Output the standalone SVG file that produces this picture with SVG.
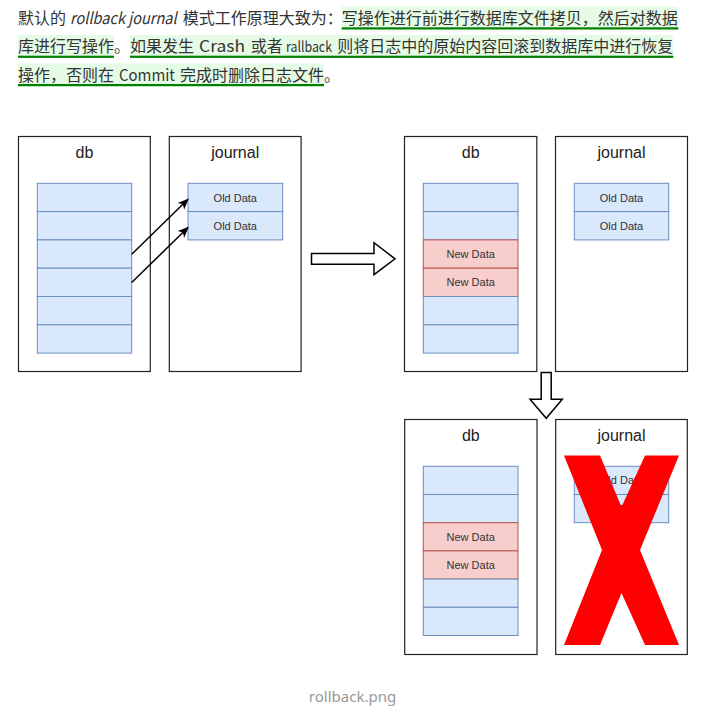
<svg xmlns="http://www.w3.org/2000/svg" width="719" height="710" viewBox="0 0 719 710">
<style>
.t{font-family:"Noto Sans CJK SC","Noto Sans",sans-serif;font-size:16px;fill:#333}
.it{font-style:italic}
.hl{fill:#e6fbe6}
.ul{fill:#008000}
.box{fill:#fff;stroke:#222;stroke-width:1.2}
.cb{fill:#dae8fc;stroke:#6c8ebf;stroke-width:1}
.cr{fill:#f8cecc;stroke:#b85450;stroke-width:1}
.ttl{font-family:"Liberation Sans",Arial,sans-serif;font-size:16px;fill:#222;text-anchor:middle}
.ct{font-family:"Liberation Sans",Arial,sans-serif;font-size:11px;fill:#333;text-anchor:middle}
.conn{stroke:#000;stroke-width:1.5;fill:none}
.big{fill:#fff;stroke:#000;stroke-width:1.5;stroke-linejoin:miter}
</style>
<defs>
<marker id="ah" viewBox="0 0 10 10" refX="9" refY="5" markerWidth="11" markerHeight="11" markerUnits="userSpaceOnUse" orient="auto">
<path d="M0,0.8 L10,5 L0,9.2 L2.5,5 z" fill="#000"/>
</marker>
</defs>
<rect width="719" height="710" fill="#fff"/>

<g id="header">
<rect class="hl" x="341.7" y="6.5" width="336.6" height="23"/>
<rect class="ul" x="341.7" y="27.3" width="336.6" height="2.2"/>
<rect class="hl" x="18" y="35" width="96" height="23"/>
<rect class="ul" x="18" y="55.7" width="96" height="2.2"/>
<rect class="hl" x="130" y="35" width="543.3" height="23"/>
<rect class="ul" x="130" y="55.7" width="543.3" height="2.2"/>
<rect class="hl" x="18" y="63.5" width="306" height="23"/>
<rect class="ul" x="18" y="84" width="306" height="2.2"/>

<text class="t" y="24"><tspan x="18">默认的</tspan><tspan class="it" x="70" textLength="106.7" lengthAdjust="spacingAndGlyphs">rollback journal</tspan><tspan x="182.7">模式工作原理大致为：</tspan><tspan x="341.7">写操作进行前进行数据库文件拷贝，然后对数据</tspan></text>

<text class="t" y="52.3"><tspan x="18">库进行写操作。</tspan><tspan x="130">如果发生</tspan><tspan x="199" textLength="46" lengthAdjust="spacingAndGlyphs">Crash</tspan><tspan x="250.7">或者</tspan><tspan x="286" font-size="14.5" textLength="46" lengthAdjust="spacingAndGlyphs">rallback</tspan><tspan x="337.3">则将日志中的原始内容回滚到数据库中进行恢复</tspan></text>

<text class="t" y="80.6"><tspan x="18">操作，否则在</tspan><tspan x="119" textLength="56" lengthAdjust="spacingAndGlyphs">Commit</tspan><tspan x="180">完成时删除日志文件。</tspan></text>
</g>

<!-- Panel 1 -->
<g id="db1">
<rect class="box" x="18.5" y="136.5" width="131.8" height="235"/>
<text class="ttl" x="84.4" y="158">db</text>
<rect class="cb" x="37.3" y="183.3" width="94.4" height="28.3"/>
<rect class="cb" x="37.3" y="211.6" width="94.4" height="28.3"/>
<rect class="cb" x="37.3" y="239.9" width="94.4" height="28.3"/>
<rect class="cb" x="37.3" y="268.2" width="94.4" height="28.3"/>
<rect class="cb" x="37.3" y="296.5" width="94.4" height="28.3"/>
<rect class="cb" x="37.3" y="324.8" width="94.4" height="28.3"/>
</g>
<g id="journal1">
<rect class="box" x="169.3" y="136.5" width="131.8" height="235"/>
<text class="ttl" x="235.2" y="158">journal</text>
<rect class="cb" x="188" y="183.3" width="94.7" height="28.3"/>
<text class="ct" x="235.3" y="201.5">Old Data</text>
<rect class="cb" x="188" y="211.6" width="94.7" height="28.3"/>
<text class="ct" x="235.3" y="229.8">Old Data</text>
</g>

<!-- Panel 2 -->
<g id="db2">
<rect class="box" x="404.5" y="136.5" width="132.3" height="235"/>
<text class="ttl" x="470.7" y="158">db</text>
<rect class="cb" x="423.3" y="183.3" width="94.7" height="28.3"/>
<rect class="cb" x="423.3" y="211.6" width="94.7" height="28.3"/>
<rect class="cr" x="423.3" y="239.9" width="94.7" height="28.3"/>
<text class="ct" x="470.7" y="258.1">New Data</text>
<rect class="cr" x="423.3" y="268.2" width="94.7" height="28.3"/>
<text class="ct" x="470.7" y="286.4">New Data</text>
<rect class="cb" x="423.3" y="296.5" width="94.7" height="28.3"/>
<rect class="cb" x="423.3" y="324.8" width="94.7" height="28.3"/>
</g>
<g id="journal2">
<rect class="box" x="555.5" y="136.5" width="132" height="235"/>
<text class="ttl" x="621.5" y="158">journal</text>
<rect class="cb" x="574.3" y="183.3" width="94.4" height="28.3"/>
<text class="ct" x="621.5" y="201.5">Old Data</text>
<rect class="cb" x="574.3" y="211.6" width="94.4" height="28.3"/>
<text class="ct" x="621.5" y="229.8">Old Data</text>
</g>

<!-- Panel 3 -->
<g id="db3">
<rect class="box" x="404.7" y="419.5" width="132.3" height="235"/>
<text class="ttl" x="470.8" y="441">db</text>
<rect class="cb" x="423.3" y="466.3" width="94.7" height="28.2"/>
<rect class="cb" x="423.3" y="494.5" width="94.7" height="28.2"/>
<rect class="cr" x="423.3" y="522.7" width="94.7" height="28.2"/>
<text class="ct" x="470.7" y="540.9">New Data</text>
<rect class="cr" x="423.3" y="550.9" width="94.7" height="28.2"/>
<text class="ct" x="470.7" y="569.1">New Data</text>
<rect class="cb" x="423.3" y="579.1" width="94.7" height="28.2"/>
<rect class="cb" x="423.3" y="607.3" width="94.7" height="28.2"/>
</g>
<g id="journal3">
<rect class="box" x="555.7" y="419.5" width="131.6" height="235"/>
<text class="ttl" x="621.5" y="441">journal</text>
<rect class="cb" x="574.3" y="466.3" width="94.4" height="28.2"/>
<text class="ct" x="621.5" y="484.4">Old Data</text>
<rect class="cb" x="574.3" y="494.5" width="94.4" height="28.2"/>
<text class="ct" x="621.5" y="512.6">Old Data</text>
</g>
<g id="cross">
<polygon fill="#ff0000" points="564,455.5 600,455.5 621.5,507 645,455.5 679,455.5 640,550 679,645 645,645 621.5,593 600,645 564,645 602,550"/>
</g>

<g id="connectors">
<line class="conn" x1="131.7" y1="254.3" x2="188" y2="199.3" marker-end="url(#ah)"/>
<line class="conn" x1="131.7" y1="282.5" x2="188" y2="227.5" marker-end="url(#ah)"/>
<polygon class="big" points="311.5,253.5 374,253.5 374,242.7 395,258.8 374,274.7 374,264.3 311.5,264.3"/>
<polygon class="big" points="541.2,372.5 551.2,372.5 551.2,399.3 562.3,399.3 546.2,418.3 530,399.3 541.2,399.3"/>
</g>

<text x="352.5" y="702" font-family="'Noto Sans','Open Sans',sans-serif" font-size="15" fill="#999" text-anchor="middle">rollback.png</text>
</svg>
